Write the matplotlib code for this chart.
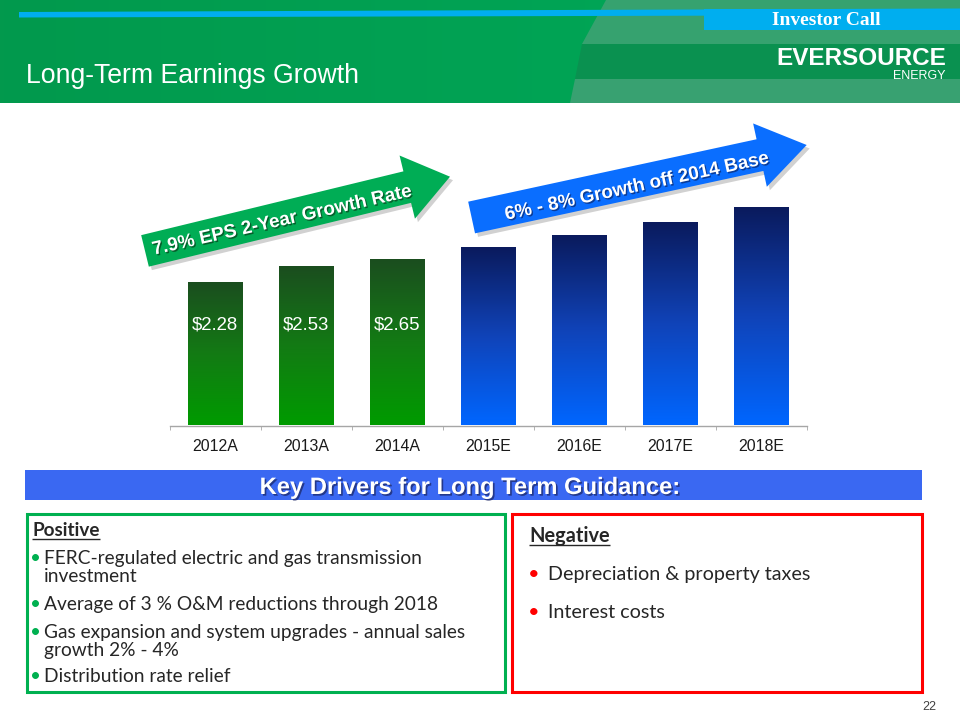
import numpy as np
import matplotlib
matplotlib.use('Agg')
import matplotlib.pyplot as plt
from matplotlib import font_manager as fm
from matplotlib.patches import Polygon, Rectangle
from matplotlib.colors import LinearSegmentedColormap
import matplotlib.patheffects as pe

# ---------------- data ----------------
categories = ['2012A', '2013A', '2014A', '2015E', '2016E', '2017E', '2018E']
eps = [2.28, 2.53, 2.65, 2.83, 3.03, 3.24, 3.48]
eps_labels = ['$2.28', '$2.53', '$2.65', '', '', '', '']
is_actual = [True, True, True, False, False, False, False]

title_text = 'Long-Term Earnings Growth'
header_tag = 'Investor Call'
logo_main = 'EVERSOURCE'
logo_sub = 'ENERGY'
green_arrow_text = '7.9% EPS 2-Year Growth Rate'
blue_arrow_text = '6% - 8% Growth off 2014 Base'
banner_text = 'Key Drivers for Long Term Guidance:'
positive_title = 'Positive'
positive_lines = [('FERC-regulated electric and gas transmission', True),
                  ('investment', False),
                  ('Average of 3 % O&M reductions through 2018', True),
                  ('Gas expansion and system upgrades - annual sales', True),
                  ('growth 2% - 4%', False),
                  ('Distribution rate relief', True)]
negative_title = 'Negative'
negative_lines = ['Depreciation & property taxes', 'Interest costs']
page_number = '22'

# ---------------- fonts ----------------
installed = {f.name for f in fm.fontManager.ttflist}
def pick(*cands):
    for c in cands:
        if c in installed:
            return c
    return 'DejaVu Sans'

SANS = pick('Liberation Sans', 'Arial', 'DejaVu Sans')
BODY = pick('Lato', 'Liberation Sans', 'DejaVu Sans')
SERIF = pick('Liberation Serif', 'DejaVu Serif')

# ---------------- figure ----------------
fig = plt.figure(figsize=(9.6, 7.2), dpi=100)
fig.patch.set_facecolor('white')

bg = fig.add_axes([0, 0, 1, 1], zorder=0)
bg.axis('off')

# chart axes (pixel layout: x-axis 169.5..806.5, baseline at y=425.5)
ax = fig.add_axes([169.5 / 960, 1 - 425.5 / 720, 637 / 960, 251.6 / 720], zorder=1)
ax.patch.set_alpha(0)

fg = fig.add_axes([0, 0, 1, 1], zorder=2)
fg.axis('off')
fg.patch.set_alpha(0)

# ---------------- header ----------------
hdr_cmap = LinearSegmentedColormap.from_list('hdr', ['#02994D', '#00AB5A'])
bg.imshow(np.linspace(0, 1, 256).reshape(1, -1), extent=[0, 960, 103, 0],
          cmap=hdr_cmap, aspect='auto', zorder=0)
bg.add_patch(Polygon([(606, 0), (960, 0), (960, 44), (582, 44)], closed=True,
                     facecolor='#36A26F', edgecolor='none', zorder=1))
bg.add_patch(Polygon([(582, 44), (960, 44), (960, 79), (575, 79)], closed=True,
                     facecolor='#0A9150', edgecolor='none', zorder=1))
bg.add_patch(Polygon([(575, 79), (960, 79), (960, 103), (570, 103)], closed=True,
                     facecolor='#38A171', edgecolor='none', zorder=1))
bg.add_patch(Polygon([(19, 12), (960, 8.5), (960, 15), (19, 17.5)], closed=True,
                     facecolor='#00AEEF', edgecolor='none', zorder=2))
bg.add_patch(Rectangle((704, 8.5), 256, 21, facecolor='#00AEEF', edgecolor='none', zorder=2))
bg.text(826, 25, header_tag, ha='center', va='baseline', color='white',
        fontsize=14, fontweight='bold', family=SERIF, zorder=3)
bg.text(861, 65, logo_main, ha='center', va='baseline', color='white',
        fontsize=17.5, fontweight='bold', family=SANS, zorder=3)
bg.text(945, 79, logo_sub, ha='right', va='baseline', color='white',
        fontsize=9, family=SANS, zorder=3)
bg.text(26, 83.3, title_text, ha='left', va='baseline', color='white',
        fontsize=19.2, family=SANS, zorder=3)

# ---------------- banner & boxes ----------------
bg.add_patch(Rectangle((25, 470), 897, 30, facecolor='#3A68F2', edgecolor='none', zorder=1))
bg.text(470, 494, banner_text, ha='center', va='baseline', color='white',
        fontsize=17.1, fontweight='bold', family=SANS, zorder=3,
        path_effects=[pe.withSimplePatchShadow(offset=(1.2, -1.2), shadow_rgbFace='#1A2460', alpha=0.7)])

bg.add_patch(Rectangle((26.5, 513.5), 478, 178, facecolor='none', edgecolor='#00B050',
                       linewidth=2.2, zorder=2))
bg.add_patch(Rectangle((511.5, 513.5), 410, 178, facecolor='none', edgecolor='#FF0000',
                       linewidth=2.2, zorder=2))

txt_color = '#262626'
t_pos = bg.text(32, 536, positive_title, ha='left', va='baseline', color=txt_color,
                fontsize=13.6, fontweight='bold', family=BODY, zorder=3)
pos_baselines = [564, 582, 610, 638, 656, 682]
for (line, bullet), yb in zip(positive_lines, pos_baselines):
    if bullet:
        bg.text(35, yb, '\u2022', ha='center', va='baseline', color='#00B050',
                fontsize=13.5, family=BODY, zorder=3)
    bg.text(43.5, yb, line, ha='left', va='baseline', color=txt_color,
            fontsize=13.8, family=BODY, zorder=3)

t_neg = bg.text(529, 542, negative_title, ha='left', va='baseline', color=txt_color,
                fontsize=14.4, fontweight='bold', family=BODY, zorder=3)
neg_baselines = [580, 618]
for line, yb in zip(negative_lines, neg_baselines):
    bg.text(534, yb, '\u2022', ha='center', va='baseline', color='#FF0000',
            fontsize=14.4, family=BODY, zorder=3)
    bg.text(548, yb, line, ha='left', va='baseline', color=txt_color,
            fontsize=14.2, family=BODY, zorder=3)

bg.text(929, 710, page_number, ha='center', va='baseline', color='#404040',
        fontsize=9, family=SANS, zorder=3)

# ---------------- bar chart ----------------
x = np.arange(len(categories))
bars = ax.bar(x, eps, width=0.6, color='none', edgecolor='none')
green_cmap = LinearSegmentedColormap.from_list('gbar', ['#009B00', '#137A14', '#1B4D1F'])
blue_cmap = LinearSegmentedColormap.from_list('bbar', ['#0066FF', '#1043B8', '#0A1A5C'])
grad = np.linspace(0, 1, 256).reshape(-1, 1)
for bar, act in zip(bars, is_actual):
    x0 = bar.get_x()
    w = bar.get_width()
    h = bar.get_height()
    im = ax.imshow(grad, extent=[x0, x0 + w, 0, h], origin='lower', aspect='auto',
                   cmap=green_cmap if act else blue_cmap, zorder=2)
    im.set_clip_path(bar)

label_y = 1.52
for xi, lab in zip(x, eps_labels):
    if lab:
        ax.text(xi, label_y, lab, ha='center', va='baseline', color='white',
                fontsize=13.4, family=SANS, zorder=3)

ax.set_xlim(-0.5, len(categories) - 0.5)
ax.set_ylim(0, 4.0)
for s in ['top', 'left', 'right']:
    ax.spines[s].set_visible(False)
ax.spines['bottom'].set_color('#A6A6A6')
ax.spines['bottom'].set_linewidth(1.0)
ax.set_yticks([])
ax.set_xticks(x)
ax.set_xticklabels(categories, fontsize=11.4, color='#1A1A1A', family=SANS)
ax.set_xticks(np.arange(-0.5, len(categories), 1.0), minor=True)
ax.tick_params(axis='x', which='major', length=0, pad=9.5)
ax.tick_params(axis='x', which='minor', length=3, color='#A6A6A6', direction='out')

# ---------------- arrows ----------------
def arrow_poly(tail, tip, body_hw, head_hw, head_len):
    tail = np.array(tail, float)
    tip = np.array(tip, float)
    d = tip - tail
    L = np.hypot(*d)
    d = d / L
    n = np.array([-d[1], d[0]])
    base = tip - d * head_len
    pts = [tail - n * body_hw, base - n * body_hw, base - n * head_hw, tip,
           base + n * head_hw, base + n * body_hw, tail + n * body_hw]
    return np.array(pts)

def draw_arrow(tail, tip, body_hw, head_hw, head_len, color):
    pts = arrow_poly(tail, tip, body_hw, head_hw, head_len)
    fg.add_patch(Polygon(pts + np.array([3, 3.5]), closed=True, facecolor='#000000',
                         edgecolor='none', alpha=0.18, zorder=1))
    fg.add_patch(Polygon(pts, closed=True, facecolor=color, edgecolor='none', zorder=2))

draw_arrow((145, 250.9), (450, 176.7), 16.2, 32.5, 44, '#00AD55')
draw_arrow((471.6, 217.5), (806.7, 145), 16.2, 32.4, 47.8, '#0A6EFF')

shadow = [pe.withSimplePatchShadow(offset=(1, -1), shadow_rgbFace='#0A2A10', alpha=0.6)]
fg.text(282, 221, green_arrow_text, rotation=12.8, rotation_mode='anchor',
        ha='center', va='center', color='white', fontsize=13.6, fontweight='bold',
        family=SANS, zorder=3, path_effects=shadow)
shadow_b = [pe.withSimplePatchShadow(offset=(1, -1), shadow_rgbFace='#0A1A50', alpha=0.6)]
fg.text(637, 187, blue_arrow_text, rotation=12.2, rotation_mode='anchor',
        ha='center', va='center', color='white', fontsize=13.6, fontweight='bold',
        family=SANS, zorder=3, path_effects=shadow_b)

for a in (bg, fg):
    a.set_xlim(0, 960)
    a.set_ylim(720, 0)

# ---------------- underlines ----------------
fig.canvas.draw()
renderer = fig.canvas.get_renderer()
inv = bg.transData.inverted()
for t, yb in ((t_pos, 538.5), (t_neg, 545)):
    bb = t.get_window_extent(renderer)
    (xa, _), (xb, _) = inv.transform([[bb.x0, bb.y0], [bb.x1, bb.y0]])
    bg.plot([xa, xb], [yb, yb], color=txt_color, linewidth=1.0, zorder=3,
            solid_capstyle='butt')
bg.set_xlim(0, 960)
bg.set_ylim(720, 0)

fig.savefig('out.png', dpi=100)
